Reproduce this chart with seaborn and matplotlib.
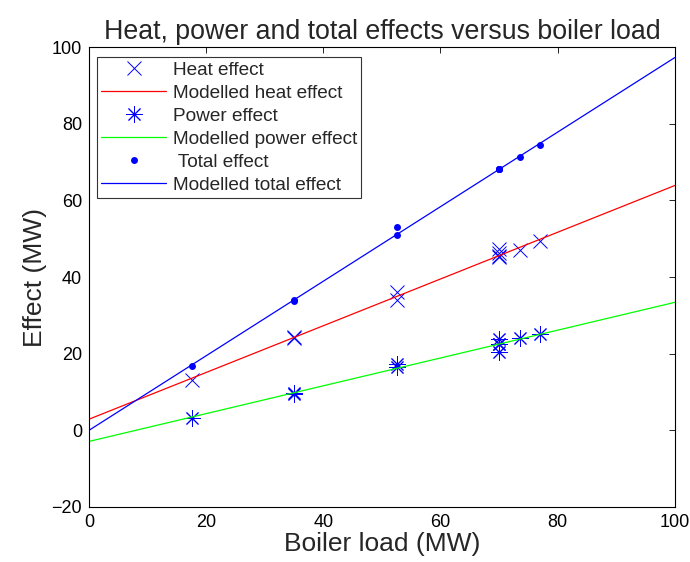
import matplotlib
matplotlib.use("Agg")
import matplotlib.pyplot as plt
import seaborn as sns
import pandas as pd

# Measured data
boiler_load = [17.5, 35, 35, 52.5, 52.5, 70, 70, 70, 70, 73.5, 77]
heat_effect = [13.2, 24.2, 24.3, 36.1, 33.9, 47.4, 46.2, 45.2, 45.6, 47.1, 49.3]
power_effect = [3.3, 9.7, 9.5, 17.2, 16.6, 23.9, 22.6, 20.4, 22.4, 24.2, 25.2]
total_effect = [16.9, 33.8, 33.9, 53.0, 50.9, 68.3, 68.3, 68.3, 68.3, 71.3, 74.6]

# Modelled lines (end points)
model_load = [0, 100]
model_heat = [2.9, 63.9]
model_power = [-2.9, 33.4]
model_total = [0.0, 97.3]

sns.set_style("white")
plt.rcParams['font.family'] = ['Liberation Sans', 'DejaVu Sans']

fig = plt.figure(figsize=(6.9, 5.62), dpi=100)
ax = fig.add_axes([0.129, 0.098, 0.849, 0.818])

meas = pd.DataFrame({"load": boiler_load, "heat": heat_effect,
                     "power": power_effect, "total": total_effect})
model = pd.DataFrame({"load": model_load, "heat": model_heat,
                      "power": model_power, "total": model_total})

BLUE = "#0000ff"
sns.lineplot(data=meas, x="load", y="heat", ax=ax, marker="x", markersize=10,
             markeredgewidth=0.7, markeredgecolor=BLUE, color=BLUE, linestyle="none",
             label="Heat effect", estimator=None)
sns.lineplot(data=model, x="load", y="heat", ax=ax, color="#ff0000", lw=0.9,
             label="Modelled heat effect", estimator=None)
sns.lineplot(data=meas, x="load", y="power", ax=ax, marker=(8, 2, 0), markersize=12,
             markeredgewidth=0.7, markeredgecolor=BLUE, color=BLUE, linestyle="none",
             label="Power effect", estimator=None)
sns.lineplot(data=model, x="load", y="power", ax=ax, color="#00ff00", lw=0.9,
             label="Modelled power effect", estimator=None)
sns.lineplot(data=meas, x="load", y="total", ax=ax, marker="o", markersize=5,
             markeredgewidth=0, color=BLUE, linestyle="none",
             label=" Total effect", estimator=None)
sns.lineplot(data=model, x="load", y="total", ax=ax, color=BLUE, lw=0.9,
             label="Modelled total effect", estimator=None)

ax.set_xlim(0, 100)
ax.set_ylim(-20, 100)
ax.set_xticks([0, 20, 40, 60, 80, 100])
ax.set_yticks([-20, 0, 20, 40, 60, 80, 100])
ax.tick_params(direction="in", top=True, right=True, length=4, width=0.6,
               labelsize=13, colors="black", pad=5)
for s in ax.spines.values():
    s.set_color("black")
    s.set_linewidth(0.8)

ax.set_xlabel("Boiler load (MW)", fontsize=19, labelpad=1)
ax.set_ylabel("Effect (MW)", fontsize=19, labelpad=3)
ax.set_title("Heat, power and total effects versus boiler load", fontsize=19.3, pad=6)

leg = ax.legend(loc="upper left", bbox_to_anchor=(0.014, 0.978), fontsize=13.7,
                frameon=True, fancybox=False, edgecolor="black",
                borderpad=0.22, labelspacing=0.3, handlelength=3.4,
                handletextpad=0.35, borderaxespad=0)
leg.get_frame().set_linewidth(0.8)

fig.savefig("out.png", dpi=100, facecolor="white")
